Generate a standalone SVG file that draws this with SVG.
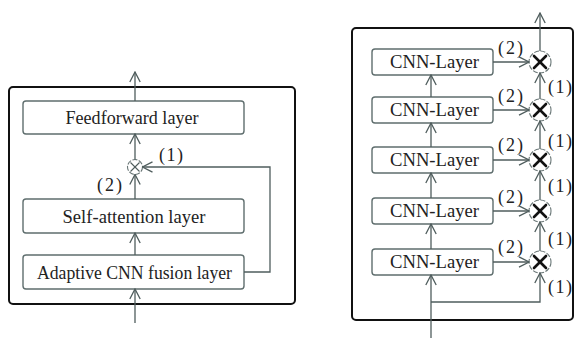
<svg xmlns="http://www.w3.org/2000/svg" width="574" height="338" viewBox="0 0 574 338">
<defs>
<marker id="ah" viewBox="0 0 12 12" refX="11" refY="6" markerWidth="12" markerHeight="12" markerUnits="userSpaceOnUse" orient="auto">
<path d="M1,0.8 L11,6 L1,11.2" fill="none" stroke="#4f5d5d" stroke-width="1.3"/>
</marker>
<style>
.frame{fill:none;stroke:#111;stroke-width:2}
.box{fill:#fff;stroke:#5f6e6e;stroke-width:1.4}
.t{font-family:"Liberation Serif","Times New Roman",serif;font-size:18.5px;fill:#222;text-anchor:middle}
.lbl{font-family:"Liberation Serif","Times New Roman",serif;font-size:18px;fill:#222}
.ca{fill:none;stroke:#4f5d5d;stroke-width:1.3;marker-end:url(#ah)}
.circ{fill:#fff;stroke:#6a7777;stroke-width:1.1;stroke-dasharray:5 1.5}
.x{stroke:#111;stroke-width:2.6;stroke-linecap:round}
.xs{stroke:#4f5d5d;stroke-width:1.1}
</style>
</defs>

<!-- Left diagram -->
<rect class="frame" x="9" y="87" width="286" height="217" rx="4"/>
<g id="feedforward">
<rect class="box" x="23" y="101" width="221" height="33" rx="3"/>
<text class="t" x="132" y="123.5" textLength="133" lengthAdjust="spacingAndGlyphs">Feedforward layer</text>
</g>
<g id="selfattention">
<rect class="box" x="23" y="199" width="221" height="34" rx="3"/>
<text class="t" x="134" y="222.5" textLength="143" lengthAdjust="spacingAndGlyphs">Self-attention layer</text>
</g>
<g id="adaptive">
<rect class="box" x="23" y="255" width="221" height="34" rx="3"/>
<text class="t" x="134.5" y="278.5" textLength="195" lengthAdjust="spacingAndGlyphs">Adaptive CNN fusion layer</text>
</g>
<g id="mult-left">
<circle class="circ" cx="135" cy="167" r="7.5"/>
<line class="xs" x1="130.5" y1="162.5" x2="139.5" y2="171.5"/>
<line class="xs" x1="139.5" y1="162.5" x2="130.5" y2="171.5"/>
</g>

<!-- Right diagram -->
<rect class="frame" x="352" y="28" width="221" height="292" rx="4"/>
<g id="cnn1"><rect class="box" x="372" y="49" width="121" height="26" rx="3"/><text class="t" x="434.5" y="68" textLength="89" lengthAdjust="spacingAndGlyphs">CNN-Layer</text></g>
<g id="cnn2"><rect class="box" x="372" y="97" width="121" height="26" rx="3"/><text class="t" x="434.5" y="116" textLength="89" lengthAdjust="spacingAndGlyphs">CNN-Layer</text></g>
<g id="cnn3"><rect class="box" x="372" y="147" width="121" height="26" rx="3"/><text class="t" x="434.5" y="166" textLength="89" lengthAdjust="spacingAndGlyphs">CNN-Layer</text></g>
<g id="cnn4"><rect class="box" x="372" y="198" width="121" height="26" rx="3"/><text class="t" x="434.5" y="217" textLength="89" lengthAdjust="spacingAndGlyphs">CNN-Layer</text></g>
<g id="cnn5"><rect class="box" x="372" y="249" width="121" height="26" rx="3"/><text class="t" x="434.5" y="268" textLength="89" lengthAdjust="spacingAndGlyphs">CNN-Layer</text></g>

<g id="mult1"><circle class="circ" cx="540" cy="62" r="11"/><line class="x" x1="534" y1="56" x2="546" y2="68"/><line class="x" x1="546" y1="56" x2="534" y2="68"/></g>
<g id="mult2"><circle class="circ" cx="540" cy="110" r="11"/><line class="x" x1="534" y1="104" x2="546" y2="116"/><line class="x" x1="546" y1="104" x2="534" y2="116"/></g>
<g id="mult3"><circle class="circ" cx="540" cy="160" r="11"/><line class="x" x1="534" y1="154" x2="546" y2="166"/><line class="x" x1="546" y1="154" x2="534" y2="166"/></g>
<g id="mult4"><circle class="circ" cx="540" cy="211" r="11"/><line class="x" x1="534" y1="205" x2="546" y2="217"/><line class="x" x1="546" y1="205" x2="534" y2="217"/></g>
<g id="mult5"><circle class="circ" cx="540" cy="262" r="11"/><line class="x" x1="534" y1="256" x2="546" y2="268"/><line class="x" x1="546" y1="256" x2="534" y2="268"/></g>

<g id="connectors">
<line class="ca" x1="135" y1="101" x2="135" y2="72"/>
<line class="ca" x1="135" y1="159.5" x2="135" y2="134"/>
<line class="ca" x1="135" y1="199" x2="135" y2="174.5"/>
<line class="ca" x1="135" y1="255" x2="135" y2="233"/>
<line class="ca" x1="135" y1="323" x2="135" y2="289"/>
<polyline class="ca" points="244,272 270,272 270,167 142.5,167"/>
<line class="ca" x1="431" y1="97" x2="431" y2="75"/>
<line class="ca" x1="431" y1="147" x2="431" y2="123"/>
<line class="ca" x1="431" y1="198" x2="431" y2="173"/>
<line class="ca" x1="431" y1="249" x2="431" y2="224"/>
<line class="ca" x1="431" y1="338" x2="431" y2="275"/>
<polyline class="ca" points="431,302 540,302 540,273"/>
<line class="ca" x1="493" y1="62" x2="529" y2="62"/>
<line class="ca" x1="493" y1="110" x2="529" y2="110"/>
<line class="ca" x1="493" y1="160" x2="529" y2="160"/>
<line class="ca" x1="493" y1="211" x2="529" y2="211"/>
<line class="ca" x1="493" y1="262" x2="529" y2="262"/>
<line class="ca" x1="540" y1="251" x2="540" y2="222"/>
<line class="ca" x1="540" y1="200" x2="540" y2="171"/>
<line class="ca" x1="540" y1="149" x2="540" y2="121"/>
<line class="ca" x1="540" y1="99" x2="540" y2="73"/>
<line class="ca" x1="540" y1="51" x2="540" y2="13"/>
</g>

<g id="labels">
<text class="lbl" x="159" y="161" textLength="24" lengthAdjust="spacing">(1)</text>
<text class="lbl" x="97" y="191" textLength="25" lengthAdjust="spacing">(2)</text>
<text class="lbl" x="498" y="54" textLength="25" lengthAdjust="spacing">(2)</text>
<text class="lbl" x="498" y="102" textLength="25" lengthAdjust="spacing">(2)</text>
<text class="lbl" x="498" y="151" textLength="25" lengthAdjust="spacing">(2)</text>
<text class="lbl" x="498" y="203" textLength="25" lengthAdjust="spacing">(2)</text>
<text class="lbl" x="498" y="253" textLength="25" lengthAdjust="spacing">(2)</text>
<text class="lbl" x="548" y="93" textLength="24" lengthAdjust="spacing">(1)</text>
<text class="lbl" x="548" y="147" textLength="24" lengthAdjust="spacing">(1)</text>
<text class="lbl" x="548" y="192" textLength="24" lengthAdjust="spacing">(1)</text>
<text class="lbl" x="548" y="245" textLength="24" lengthAdjust="spacing">(1)</text>
<text class="lbl" x="548" y="293" textLength="24" lengthAdjust="spacing">(1)</text>
</g>
</svg>
